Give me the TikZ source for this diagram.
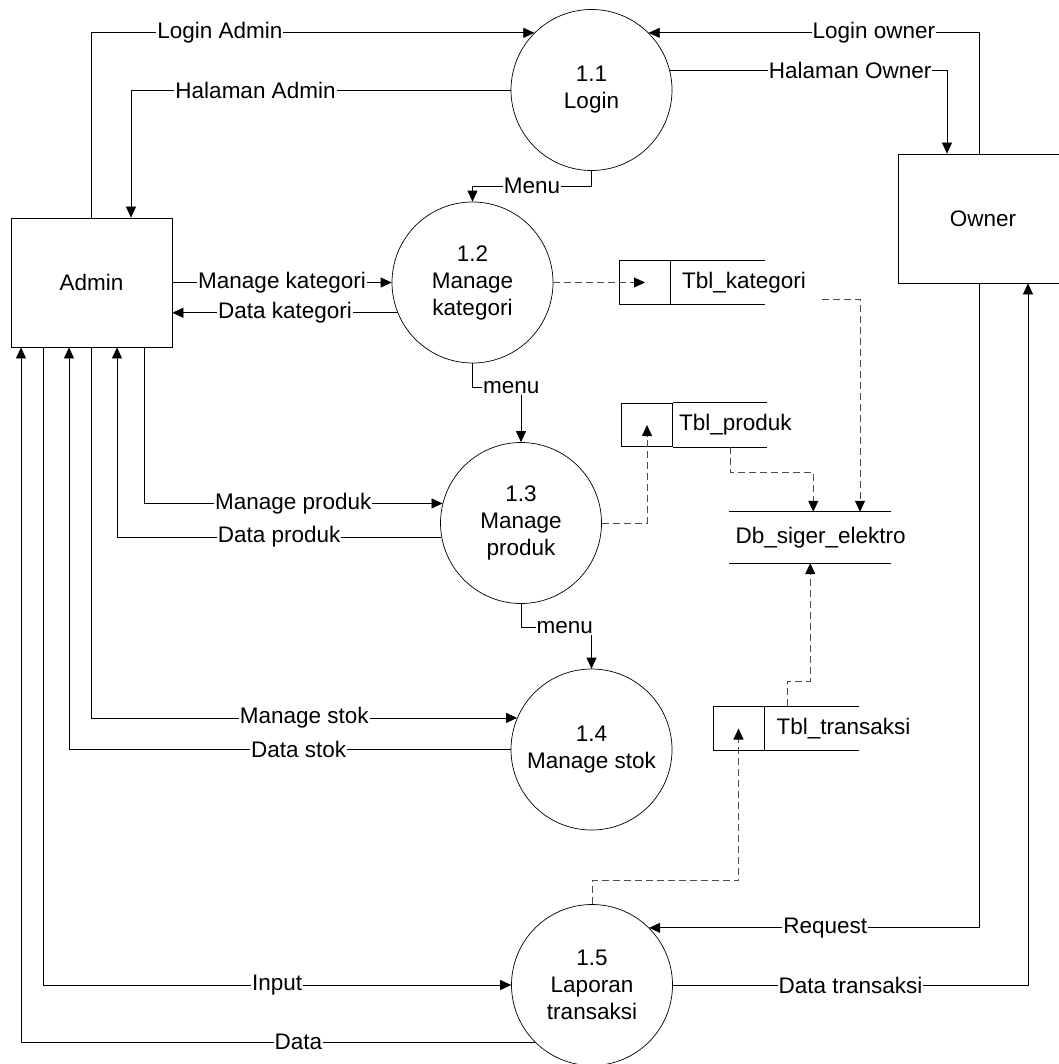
\documentclass[tikz,border=0pt]{standalone}
\usepackage{fontspec}
\setmainfont{Liberation Sans}
\usetikzlibrary{arrows.meta,positioning}

\begin{document}
\begin{tikzpicture}[x=1pt,y=-1pt,
    every node/.style={font=\fontsize{22.5}{27}\selectfont},
    ent/.style={draw,line width=0.8pt,minimum width=161pt,minimum height=129pt},
    proc/.style={draw,circle,line width=0.7pt,minimum size=161pt,inner sep=0pt,align=center},
    tbl/.style={draw,line width=0.8pt,minimum width=51pt,minimum height=43.5pt,inner sep=0pt},
    tbltext/.style={inner sep=0pt},
    lbl/.style={fill=white,inner sep=1pt},
    flow/.style={line width=0.8pt,-{Triangle[length=11pt,width=10pt]}},
    dflow/.style={line width=0.8pt,draw=black!70,dash pattern=on 7pt off 4pt,
      -{Triangle[length=11pt,width=10pt,color=black]}}]
  \useasboundingbox (0,0) rectangle (1058,1064);

  % entities
  \node[ent] (admin) at (91.5,282.5) {Admin};
  \node[ent,minimum width=170pt] (owner) at (983,218.5) {Owner};

  % processes
  \node[proc] (p11) at (591.5,90) {1.1\\Login};
  \node[proc] (p12) at (472.5,282.5) {1.2\\Manage\\kategori};
  \node[proc] (p13) at (521,523) {1.3\\Manage\\produk};
  \node[proc] (p14) at (591.5,749.5) {1.4\\Manage stok};
  \node[proc] (p15) at (592,985) {1.5\\Laporan\\transaksi};

  % data stores
  \node[tbl] (tblkat) at (645,282.5) {};
  \node[tbltext,right=11pt of tblkat] (tblkattxt) {Tbl\_kategori};
  \node[tbl] (tblprod) at (647,425) {};
  \node[tbltext,right=6pt of tblprod] (tblprodtxt) {Tbl\_produk};
  \node[tbl] (tbltrans) at (738.5,728.5) {};
  \node[tbltext,right=12pt of tbltrans] (tbltranstxt) {Tbl\_transaksi};
  \foreach \t in {tblkat,tblprod,tbltrans}
    \draw[line width=0.8pt] (\t.north east) -- ++(94.5,0) (\t.south east) -- ++(94.5,0);
  \node[minimum width=161.5pt,minimum height=51pt] (db) at (810.25,537.5) {};
  \node[tbltext,right=6pt of db.west] (dbtxt) {Db\_siger\_elektro};
  \draw[line width=0.8pt] (db.north west) -- (db.north east) (db.south west) -- (db.south east);

  % flows
  \draw[flow] (admin.north) |- node[lbl,pos=0.645]{Login Admin} (p11.135);
  \draw[flow] (p11.west) -| node[lbl,pos=0.336]{Halaman Admin} ([xshift=39.5pt]admin.north);
  \draw[flow] ([xshift=-4pt]owner.north) |- node[lbl,pos=0.659]{Login owner} (p11.45);
  \draw[flow] (p11.14) -| node[lbl,pos=0.325]{Halaman Owner} ([xshift=-36pt]owner.north);
  \draw[flow] (p11.south) -- ++(0,15.5) -| node[lbl,pos=0.25]{Menu} (p12.north);
  \draw[flow] (admin.east) -- node[lbl]{Manage kategori} (admin.east -| p12.west);
  \draw[flow] (p12.202) -- node[lbl]{Data kategori} (p12.202 -| admin.east);
  \draw[flow] (p12.south) -- ++(0,24.5) -| node[lbl,pos=0.4]{menu} (p13.north);
  \draw[flow] ([xshift=52.5pt]admin.south) |- node[lbl,pos=0.75]{Manage produk} (p13.166);
  \draw[flow] (p13.190) -| node[lbl,pos=0.25]{Data produk} ([xshift=25.5pt]admin.south);
  \draw[flow] (p13.south) -- ++(0,23.5) -| node[lbl,pos=0.31]{menu} (p14.north);
  \draw[flow] (admin.south) |- node[lbl,pos=0.75]{Manage stok} (p14.157);
  \draw[flow] (p14.west) -| node[lbl,pos=0.24]{Data stok} ([xshift=-22.5pt]admin.south);
  \draw[flow] ([xshift=-48.5pt]admin.south) |- node[lbl,pos=0.75]{Input} (p15.west);
  \draw[flow] (p15.225) -| node[lbl,pos=0.23]{Data} ([xshift=-70.5pt]admin.south);
  \draw[flow] ([xshift=-4pt]owner.south) |- node[lbl,pos=0.733]{Request} (p15.45);
  \draw[flow] (p15.east) -| node[lbl,pos=0.25]{Data transaksi} ([xshift=45pt]owner.south);

  % data store access
  \coordinate (katout) at (822,299);
  \draw[dflow] (p12.east) -- (tblkat.center);
  \draw[dflow] (katout) -| ([xshift=49.75pt]db.north);
  \draw[dflow] (p13.east) -| (tblprod.center);
  \draw[dflow] ([xshift=57.5pt]tblprod.south east) -- ++(0,25) -| ([xshift=3pt]db.north);
  \draw[dflow] ([xshift=23pt]tbltrans.north east) -- ++(0,-25) -| (db.south);
  \draw[dflow] (p15.north) -- ++(0,-23.5) -| (tbltrans.center);
\end{tikzpicture}
\end{document}
